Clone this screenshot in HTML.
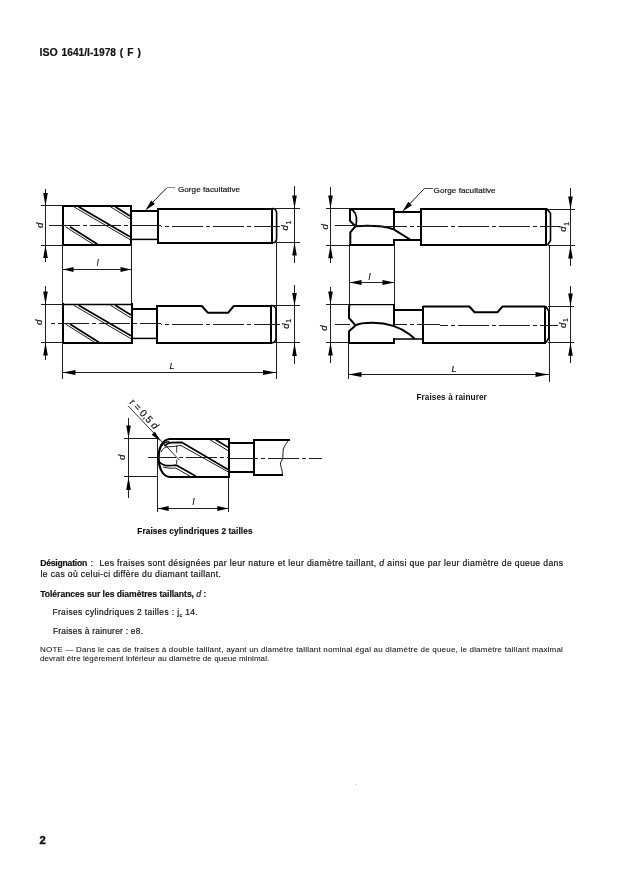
<!DOCTYPE html>
<html><head><meta charset="utf-8"><style>
html,body{margin:0;padding:0;background:#fff;width:621px;height:877px;overflow:hidden}
svg{position:absolute;left:0;top:0;display:block;will-change:transform}
text{font-family:"Liberation Sans",sans-serif;fill:#111;stroke:#111;stroke-width:0.18px}
</style></head><body>
<svg width="621" height="877" viewBox="0 0 621 877" fill="none">
<path d="M45.5,188.5V261.5" stroke="#1e1e1e" stroke-width="1" shape-rendering="crispEdges"/>
<path d="M45.5,206L43.2,193L47.8,193Z" fill="#000" stroke="none"/>
<path d="M45.5,245L47.8,258L43.2,258Z" fill="#000" stroke="none"/>
<path d="M41,205.5H63" stroke="#1e1e1e" stroke-width="1" shape-rendering="crispEdges"/>
<path d="M41,245.5H63" stroke="#1e1e1e" stroke-width="1" shape-rendering="crispEdges"/>
<path d="M62,206H132" stroke="#000" stroke-width="2" shape-rendering="crispEdges"/>
<path d="M62,245H132" stroke="#000" stroke-width="2" shape-rendering="crispEdges"/>
<path d="M63,205V246" stroke="#000" stroke-width="2" shape-rendering="crispEdges"/>
<path d="M131,205V246" stroke="#000" stroke-width="2" shape-rendering="crispEdges"/>
<path d="M73.8,206.8L130,239.56" stroke="#000" stroke-width="0.9"/>
<path d="M78.6,206.8L130,236.77" stroke="#000" stroke-width="1.7"/>
<path d="M110.5,206.8L130,218.89" stroke="#000" stroke-width="0.9"/>
<path d="M115.3,206.8L130,215.91" stroke="#000" stroke-width="1.7"/>
<path d="M65.5,226.8L93.12,244.2" stroke="#000" stroke-width="0.9"/>
<path d="M69.9,226.8L97.52,244.2" stroke="#000" stroke-width="1.7"/>
<path d="M130,211H159" stroke="#000" stroke-width="2" shape-rendering="crispEdges"/>
<path d="M131,239.4H158" stroke="#000" stroke-width="1.5"/>
<path d="M157,209H273" stroke="#000" stroke-width="2" shape-rendering="crispEdges"/>
<path d="M157,243H273" stroke="#000" stroke-width="2" shape-rendering="crispEdges"/>
<path d="M158,208V244" stroke="#000" stroke-width="2" shape-rendering="crispEdges"/>
<path d="M272,208V244" stroke="#000" stroke-width="2" shape-rendering="crispEdges"/>
<path d="M272,208.5 Q276.6,208.5 276.6,213.2 L276.6,238.6 Q276.6,242.8 272.5,243" stroke="#000" stroke-width="1.6" fill="none" stroke-linejoin="round" />
<path d="M294.5,186V263" stroke="#1e1e1e" stroke-width="1" shape-rendering="crispEdges"/>
<path d="M294.5,208.5L292.2,195.5L296.8,195.5Z" fill="#000" stroke="none"/>
<path d="M294.5,242.5L296.8,255.5L292.2,255.5Z" fill="#000" stroke="none"/>
<path d="M274,208.5H300" stroke="#1e1e1e" stroke-width="1" shape-rendering="crispEdges"/>
<path d="M274,242.5H300" stroke="#1e1e1e" stroke-width="1" shape-rendering="crispEdges"/>
<text x="0" y="0" font-size="9.3" font-style="italic" transform="translate(288.2,230.5) rotate(-90)">d<tspan font-size="6.8" font-style="normal" dx="0.8" dy="2.6">1</tspan></text>
<text x="0" y="0" font-size="9.6" font-style="italic" transform="translate(43.1,228) rotate(-90)">d</text>
<path d="M49,225.5H161" stroke="#1e1e1e" stroke-width="1" shape-rendering="crispEdges" stroke-dasharray="31 3 4 3" stroke-dashoffset="0"/>
<path d="M161,226.5H279.5" stroke="#1e1e1e" stroke-width="1" shape-rendering="crispEdges" stroke-dasharray="31 3 4 3" stroke-dashoffset="112"/>
<path d="M63,269.5H131" stroke="#1e1e1e" stroke-width="1" shape-rendering="crispEdges"/>
<path d="M63,269.5L73.5,267.1L73.5,271.9Z" fill="#000" stroke="none"/>
<path d="M131,269.5L120.5,271.9L120.5,267.1Z" fill="#000" stroke="none"/>
<path d="M62.5,245V304" stroke="#1e1e1e" stroke-width="1" shape-rendering="crispEdges"/>
<path d="M131.5,245V304" stroke="#1e1e1e" stroke-width="1" shape-rendering="crispEdges"/>
<text x="96.7" y="265.8" font-size="8.2" font-weight="normal" font-style="italic" >l</text>
<path d="M167,187.5H175" stroke="#888" stroke-width="1" shape-rendering="crispEdges"/>
<path d="M166.6,188L149.5,205.5" stroke="#000" stroke-width="0.9"/>
<path d="M145.2,210.6L151.29,200.53L154.92,203.97Z" fill="#000" stroke="none"/>
<text x="177.9" y="191.7" font-size="8.1" font-weight="normal" textLength="62.2" lengthAdjust="spacing" >Gorge facultative</text>
<path d="M276.5,243V379" stroke="#1e1e1e" stroke-width="1" shape-rendering="crispEdges"/>
<path d="M45.5,286V360" stroke="#1e1e1e" stroke-width="1" shape-rendering="crispEdges"/>
<path d="M45.5,304.4L43.2,291.4L47.8,291.4Z" fill="#000" stroke="none"/>
<path d="M45.5,342.5L47.8,355.5L43.2,355.5Z" fill="#000" stroke="none"/>
<path d="M41,304.5H63" stroke="#1e1e1e" stroke-width="1" shape-rendering="crispEdges"/>
<path d="M41,342.5H63" stroke="#1e1e1e" stroke-width="1" shape-rendering="crispEdges"/>
<path d="M62,304.4H132" stroke="#000" stroke-width="1.5"/>
<path d="M62,343H133" stroke="#000" stroke-width="2" shape-rendering="crispEdges"/>
<path d="M63,303.4V344" stroke="#000" stroke-width="2" shape-rendering="crispEdges"/>
<path d="M132,303.4V344" stroke="#000" stroke-width="2" shape-rendering="crispEdges"/>
<path d="M73.8,305.3L131,338.65" stroke="#000" stroke-width="0.9"/>
<path d="M78.6,305.3L131,335.85" stroke="#000" stroke-width="1.7"/>
<path d="M110.5,305.3L131,318.01" stroke="#000" stroke-width="0.9"/>
<path d="M115.3,305.3L131,315.03" stroke="#000" stroke-width="1.7"/>
<path d="M65.5,324L94.39,342.2" stroke="#000" stroke-width="0.9"/>
<path d="M69.9,324L98.79,342.2" stroke="#000" stroke-width="1.7"/>
<path d="M131,309H158" stroke="#000" stroke-width="2" shape-rendering="crispEdges"/>
<path d="M132,338.4H157" stroke="#000" stroke-width="1.5"/>
<path d="M157,306 L201.9,306 L207.7,312.7 L228.3,312.7 L233.8,306 L271,306" stroke="#000" stroke-width="2.0" fill="none" stroke-linejoin="round" />
<path d="M156,306H158" stroke="#000" stroke-width="2" shape-rendering="crispEdges"/>
<path d="M156,343H272" stroke="#000" stroke-width="2" shape-rendering="crispEdges"/>
<path d="M157,305V344" stroke="#000" stroke-width="2" shape-rendering="crispEdges"/>
<path d="M271,305V344" stroke="#000" stroke-width="2" shape-rendering="crispEdges"/>
<path d="M271,305.5 Q276,305.5 276,310.5 L276,338 Q276,342.6 271.5,343" stroke="#000" stroke-width="1.6" fill="none" stroke-linejoin="round" />
<path d="M294.5,284.6V363.7" stroke="#1e1e1e" stroke-width="1" shape-rendering="crispEdges"/>
<path d="M294.5,306L292.2,293L296.8,293Z" fill="#000" stroke="none"/>
<path d="M294.5,343L296.8,356L292.2,356Z" fill="#000" stroke="none"/>
<path d="M274,305.5H300" stroke="#1e1e1e" stroke-width="1" shape-rendering="crispEdges"/>
<path d="M274,342.5H300" stroke="#1e1e1e" stroke-width="1" shape-rendering="crispEdges"/>
<text x="0" y="0" font-size="9.3" font-style="italic" transform="translate(288.6,328.8) rotate(-90)">d<tspan font-size="6.8" font-style="normal" dx="0.8" dy="2.6">1</tspan></text>
<text x="0" y="0" font-size="9.6" font-style="italic" transform="translate(42.4,325) rotate(-90)">d</text>
<path d="M49,323.5H161" stroke="#1e1e1e" stroke-width="1" shape-rendering="crispEdges" stroke-dasharray="31 3 4 3" stroke-dashoffset="32.4"/>
<path d="M161,324.5H280" stroke="#1e1e1e" stroke-width="1" shape-rendering="crispEdges" stroke-dasharray="31 3 4 3" stroke-dashoffset="112"/>
<path d="M62.5,372.5H276" stroke="#1e1e1e" stroke-width="1" shape-rendering="crispEdges"/>
<path d="M62.5,372.5L75.5,370.1L75.5,374.9Z" fill="#000" stroke="none"/>
<path d="M276,372.5L263,374.9L263,370.1Z" fill="#000" stroke="none"/>
<path d="M62.5,343V379" stroke="#1e1e1e" stroke-width="1" shape-rendering="crispEdges"/>
<text x="169.5" y="369.3" font-size="9" font-weight="normal" font-style="italic" >L</text>
<path d="M330.5,187.2V262.6" stroke="#1e1e1e" stroke-width="1" shape-rendering="crispEdges"/>
<path d="M330.5,208.5L328.2,195.5L332.8,195.5Z" fill="#000" stroke="none"/>
<path d="M330.5,245.2L332.8,258.2L328.2,258.2Z" fill="#000" stroke="none"/>
<path d="M326,208.5H350" stroke="#1e1e1e" stroke-width="1" shape-rendering="crispEdges"/>
<path d="M326,245.5H350" stroke="#1e1e1e" stroke-width="1" shape-rendering="crispEdges"/>
<path d="M349,209H395" stroke="#000" stroke-width="2" shape-rendering="crispEdges"/>
<path d="M394,208V229.5" stroke="#000" stroke-width="2" shape-rendering="crispEdges"/>
<path d="M394,239V246" stroke="#000" stroke-width="2" shape-rendering="crispEdges"/>
<path d="M349,245H395" stroke="#000" stroke-width="2" shape-rendering="crispEdges"/>
<path d="M350,209 L350,220.7 L355.3,226.3 L350.3,232.3 L350.3,245" stroke="#000" stroke-width="2.0" fill="none" stroke-linejoin="round" />
<path d="M350.6,209.3 C355,211 356.8,216 356.5,221.3 C356.3,224 356,225.5 355.5,226.3" stroke="#000" stroke-width="1.7" fill="none" stroke-linejoin="round" />
<path d="M355.3,226.3 C362,225.8 372,225.6 382,226.6 C387,227.2 391,228.2 394.2,229.7 L410.8,240" stroke="#000" stroke-width="2.0" fill="none" stroke-linejoin="round" />
<path d="M393,212H422" stroke="#000" stroke-width="2" shape-rendering="crispEdges"/>
<path d="M393,240H422" stroke="#000" stroke-width="2" shape-rendering="crispEdges"/>
<path d="M420,209H547" stroke="#000" stroke-width="2" shape-rendering="crispEdges"/>
<path d="M420,245H547" stroke="#000" stroke-width="2" shape-rendering="crispEdges"/>
<path d="M421,208V246" stroke="#000" stroke-width="2" shape-rendering="crispEdges"/>
<path d="M546,208V246" stroke="#000" stroke-width="2" shape-rendering="crispEdges"/>
<path d="M546.5,208.6 L550.5,213.2 L550.5,240.5 L547.5,245.2" stroke="#000" stroke-width="1.6" fill="none" stroke-linejoin="round" />
<path d="M570.5,188V265.6" stroke="#1e1e1e" stroke-width="1" shape-rendering="crispEdges"/>
<path d="M570.5,209.5L568.2,196.5L572.8,196.5Z" fill="#000" stroke="none"/>
<path d="M570.5,245.5L572.8,258.5L568.2,258.5Z" fill="#000" stroke="none"/>
<path d="M548,209.5H575" stroke="#1e1e1e" stroke-width="1" shape-rendering="crispEdges"/>
<path d="M548,245.5H575" stroke="#1e1e1e" stroke-width="1" shape-rendering="crispEdges"/>
<text x="0" y="0" font-size="9.3" font-style="italic" transform="translate(566.3,231.8) rotate(-90)">d<tspan font-size="6.8" font-style="normal" dx="0.8" dy="2.6">1</tspan></text>
<text x="0" y="0" font-size="9.6" font-style="italic" transform="translate(328.2,229.5) rotate(-90)">d</text>
<path d="M335.4,225.5H380" stroke="#1e1e1e" stroke-width="1" shape-rendering="crispEdges" stroke-dasharray="31 3 4 3" stroke-dashoffset="0"/>
<path d="M380,226.5H559.8" stroke="#1e1e1e" stroke-width="1" shape-rendering="crispEdges" stroke-dasharray="31 3 4 3" stroke-dashoffset="44.6"/>
<path d="M424.4,188.5H432.8" stroke="#555" stroke-width="1" shape-rendering="crispEdges"/>
<path d="M424.4,188.5L406,207.8" stroke="#000" stroke-width="0.9"/>
<path d="M402.2,211.8L408.32,201.75L411.94,205.2Z" fill="#000" stroke="none"/>
<text x="433.6" y="192.5" font-size="8.1" font-weight="normal" textLength="62.0" lengthAdjust="spacing" >Gorge facultative</text>
<path d="M349.5,282.5H394.5" stroke="#1e1e1e" stroke-width="1" shape-rendering="crispEdges"/>
<path d="M349.5,282.5L361.5,280L361.5,285Z" fill="#000" stroke="none"/>
<path d="M394.5,282.5L382.5,285L382.5,280Z" fill="#000" stroke="none"/>
<path d="M349.5,245V304.5" stroke="#1e1e1e" stroke-width="1" shape-rendering="crispEdges"/>
<path d="M394.5,245V304.5" stroke="#1e1e1e" stroke-width="1" shape-rendering="crispEdges"/>
<text x="368.6" y="279.6" font-size="8.6" font-weight="normal" font-style="italic" >l</text>
<path d="M549.5,246V381.6" stroke="#1e1e1e" stroke-width="1" shape-rendering="crispEdges"/>
<path d="M330.5,287V362.6" stroke="#1e1e1e" stroke-width="1" shape-rendering="crispEdges"/>
<path d="M330.5,304.6L328.2,291.6L332.8,291.6Z" fill="#000" stroke="none"/>
<path d="M330.5,342.6L332.8,355.6L328.2,355.6Z" fill="#000" stroke="none"/>
<path d="M326,304.5H349" stroke="#1e1e1e" stroke-width="1" shape-rendering="crispEdges"/>
<path d="M326,342.5H349" stroke="#1e1e1e" stroke-width="1" shape-rendering="crispEdges"/>
<path d="M349,304.6H394" stroke="#000" stroke-width="1.4"/>
<path d="M394,303.6V326.5" stroke="#000" stroke-width="2" shape-rendering="crispEdges"/>
<path d="M349.5,304.4 C348.7,309 349,314 349,318 L355.5,325.4 L349,331.2 L349,343" stroke="#000" stroke-width="2.0" fill="none" stroke-linejoin="round" />
<path d="M348,343H395" stroke="#000" stroke-width="2" shape-rendering="crispEdges"/>
<path d="M394,338V344" stroke="#000" stroke-width="2" shape-rendering="crispEdges"/>
<path d="M355.5,325.4 C358.5,323.6 365,322.8 372.6,322.8 C380,322.9 388,324.3 393.2,325.9 C399,327.8 405,331 409,334 C411,335.5 413,337.2 414.8,339" stroke="#000" stroke-width="2.0" fill="none" stroke-linejoin="round" />
<path d="M393,310H424" stroke="#000" stroke-width="2" shape-rendering="crispEdges"/>
<path d="M394,339H423" stroke="#000" stroke-width="1.5"/>
<path d="M423,306.5 L469.3,306.5 L474.6,312.2 L497.6,312.2 L502.5,306.5 L545,306.5" stroke="#000" stroke-width="2.0" fill="none" stroke-linejoin="round" />
<path d="M422,343H546" stroke="#000" stroke-width="2" shape-rendering="crispEdges"/>
<path d="M423,305.5V344" stroke="#000" stroke-width="2" shape-rendering="crispEdges"/>
<path d="M545,305.5V344" stroke="#000" stroke-width="2" shape-rendering="crispEdges"/>
<path d="M545.4,306 L548.8,311 L548.8,338 L546,342.6" stroke="#000" stroke-width="1.6" fill="none" stroke-linejoin="round" />
<path d="M570.5,286V363.3" stroke="#1e1e1e" stroke-width="1" shape-rendering="crispEdges"/>
<path d="M570.5,306.5L568.2,293.5L572.8,293.5Z" fill="#000" stroke="none"/>
<path d="M570.5,342.7L572.8,355.7L568.2,355.7Z" fill="#000" stroke="none"/>
<path d="M548,306.5H574.3" stroke="#1e1e1e" stroke-width="1" shape-rendering="crispEdges"/>
<path d="M548,342.5H574.3" stroke="#1e1e1e" stroke-width="1" shape-rendering="crispEdges"/>
<text x="0" y="0" font-size="9.3" font-style="italic" transform="translate(565.8,328) rotate(-90)">d<tspan font-size="6.8" font-style="normal" dx="0.8" dy="2.6">1</tspan></text>
<text x="0" y="0" font-size="9.6" font-style="italic" transform="translate(326.6,330.8) rotate(-90)">d</text>
<path d="M335,324.5H350" stroke="#1e1e1e" stroke-width="1" shape-rendering="crispEdges" stroke-dasharray="31 3 4 3" stroke-dashoffset="0"/>
<path d="M394,324.5H440" stroke="#1e1e1e" stroke-width="1" shape-rendering="crispEdges" stroke-dasharray="31 3 4 3" stroke-dashoffset="59"/>
<path d="M440,325.5H557.8" stroke="#1e1e1e" stroke-width="1" shape-rendering="crispEdges" stroke-dasharray="31 3 4 3" stroke-dashoffset="105"/>
<rect x="355" y="784" width="2" height="1" fill="#d8d8d8"/>
<path d="M348.5,374.5H548.5" stroke="#1e1e1e" stroke-width="1" shape-rendering="crispEdges"/>
<path d="M348.5,374.5L361.5,372.1L361.5,376.9Z" fill="#000" stroke="none"/>
<path d="M548.5,374.5L535.5,376.9L535.5,372.1Z" fill="#000" stroke="none"/>
<path d="M348.5,343V379" stroke="#1e1e1e" stroke-width="1" shape-rendering="crispEdges"/>
<text x="451.4" y="371.6" font-size="9" font-weight="normal" font-style="italic" >L</text>
<text x="416.4" y="400" font-size="8.2" font-weight="bold" textLength="70.4" lengthAdjust="spacing" style="stroke-width:0">Fraises à rainurer</text>
<path d="M128.5,418V498" stroke="#1e1e1e" stroke-width="1" shape-rendering="crispEdges"/>
<path d="M128.5,438.5L126.2,425.5L130.8,425.5Z" fill="#000" stroke="none"/>
<path d="M128.5,477L130.8,490L126.2,490Z" fill="#000" stroke="none"/>
<path d="M124,438.5H158" stroke="#1e1e1e" stroke-width="1" shape-rendering="crispEdges"/>
<path d="M124,476.5H158" stroke="#1e1e1e" stroke-width="1" shape-rendering="crispEdges"/>
<path d="M169,439H230" stroke="#000" stroke-width="2" shape-rendering="crispEdges"/>
<path d="M169,477H230" stroke="#000" stroke-width="2" shape-rendering="crispEdges"/>
<path d="M229,438V478" stroke="#000" stroke-width="2" shape-rendering="crispEdges"/>
<path d="M157.5,438V512" stroke="#1e1e1e" stroke-width="1" shape-rendering="crispEdges"/>
<path d="M228.5,477V512" stroke="#1e1e1e" stroke-width="1" shape-rendering="crispEdges"/>
<path d="M170.5,439 C161.5,439 158.6,449.5 158.6,457.5 C158.6,466 161.5,476.8 170.5,477" stroke="#000" stroke-width="2.1" fill="none" stroke-linejoin="round" />
<path d="M228,443H255" stroke="#000" stroke-width="2" shape-rendering="crispEdges"/>
<path d="M228,472H255" stroke="#000" stroke-width="2" shape-rendering="crispEdges"/>
<path d="M254,439V476" stroke="#000" stroke-width="2" shape-rendering="crispEdges"/>
<path d="M253,440H289.5" stroke="#000" stroke-width="2" shape-rendering="crispEdges"/>
<path d="M253,475H283" stroke="#000" stroke-width="2" shape-rendering="crispEdges"/>
<path d="M289,439.4 C287,443 284,446 283.3,449.3 C282.8,452 283.2,455 282.8,457.8 C282.3,460.5 280.2,462 280.4,464.2 C280.6,467 282.6,470 282.4,474.4" stroke="#000" stroke-width="0.9" fill="none" stroke-linejoin="round" />
<path d="M148,457.5H230" stroke="#1e1e1e" stroke-width="1" shape-rendering="crispEdges" stroke-dasharray="31 3 4 3" stroke-dashoffset="3"/>
<path d="M230,458.5H322.4" stroke="#1e1e1e" stroke-width="1" shape-rendering="crispEdges" stroke-dasharray="31 3 4 3" stroke-dashoffset="85"/>
<path d="M157.7,508.5H228.3" stroke="#1e1e1e" stroke-width="1" shape-rendering="crispEdges"/>
<path d="M157.7,508.5L168.7,506.1L168.7,510.9Z" fill="#000" stroke="none"/>
<path d="M228.3,508.5L217.3,510.9L217.3,506.1Z" fill="#000" stroke="none"/>
<text x="192.4" y="504.6" font-size="8.6" font-weight="normal" font-style="italic" >l</text>
<text x="0" y="0" font-size="9.6" font-style="italic" transform="translate(124.6,460.1) rotate(-90)">d</text>
<path d="M128,405.8L179.6,460.3" stroke="#000" stroke-width="0.8"/>
<path d="M160.8,441.2L151.68,434.67L154.89,431.66Z" fill="#000" stroke="none"/>
<text x="0" y="0" font-size="10" transform="translate(129.0,402.8) rotate(46.9)">r = 0,5 <tspan font-style="italic">d</tspan></text>
<path d="M164.5,446.2 C167,443.5 169,442.6 171.3,442.6 L181.6,442.3 L228,469.6" stroke="#000" stroke-width="1.7" fill="none" stroke-linejoin="round" />
<path d="M161,452 C163,448 166,446.5 169.3,446.8 C173,446.6 178,445.8 181,445.5 L228,471.8" stroke="#000" stroke-width="0.9" fill="none" stroke-linejoin="round" />
<path d="M159.7,462.3 C161.5,464 163.5,465 166,465.6 C169,466 172,465.4 176.4,465.2 L196,476.2" stroke="#000" stroke-width="1.7" fill="none" stroke-linejoin="round" />
<path d="M162.9,466.8 C167,468.4 171,468.3 175.8,468.1 L190,476.2" stroke="#000" stroke-width="0.9" fill="none" stroke-linejoin="round" />
<path d="M210,439.8L228.2,450.72" stroke="#000" stroke-width="0.9"/>
<path d="M215.6,439.8L228.2,447.36" stroke="#000" stroke-width="1.7"/>
<path d="M162,446 C163.5,443 166,441.7 169.5,441.6" stroke="#000" stroke-width="1.2" fill="none" stroke-linejoin="round" />
<path d="M176.7,445.5V452.6M176.7,459.7V464.2" stroke="#1e1e1e" stroke-width="0.9"/>
<text x="39.5" y="55.9" font-size="10.2" font-weight="bold" textLength="18.2" lengthAdjust="spacingAndGlyphs" >ISO</text>
<text x="61.6" y="55.9" font-size="10.2" font-weight="bold" textLength="54.4" lengthAdjust="spacingAndGlyphs" >1641/I-1978</text>
<text x="119.7" y="55.9" font-size="10.2" font-weight="bold" textLength="21.2" lengthAdjust="spacing" >(F)</text>
<text x="39.5" y="844" font-size="11.2" font-weight="bold" font-style="normal" style="stroke:#111;stroke-width:0.5">2</text>
<text x="40.2" y="565.9" font-size="8.6" font-weight="bold" textLength="47.1" lengthAdjust="spacing" >Désignation</text>
<text x="90.6" y="565.9" font-size="8.6" font-weight="normal" font-style="normal" >:</text>
<text x="99.4" y="566" font-size="8.6" font-weight="normal" textLength="463.6" lengthAdjust="spacing" >Les fraises sont désignées par leur nature et leur diamètre taillant, <tspan font-style="italic">d</tspan> ainsi que par leur diamètre de queue dans</text>
<text x="40.6" y="577.3" font-size="8.6" font-weight="normal" textLength="180.2" lengthAdjust="spacing" >le cas où celui-ci diffère du diamant taillant.</text>
<text x="40.2" y="596.5" font-size="8.6" font-weight="bold" textLength="166.1" lengthAdjust="spacing" >Tolérances sur les diamètres taillants, <tspan font-weight="normal" font-style="italic">d</tspan> :</text>
<text x="52.4" y="615" font-size="8.4" font-weight="normal" textLength="145.3" lengthAdjust="spacing" >Fraises cylindriques 2 tailles : j<tspan font-size="5.5" dy="1.8">c</tspan><tspan dy="-1.8"> 14.</tspan></text>
<text x="52.9" y="634.4" font-size="8.4" font-weight="normal" textLength="90.1" lengthAdjust="spacing" >Fraises à rainurer : e8.</text>
<text x="40" y="652.2" font-size="8.0" font-weight="normal" textLength="522.9" lengthAdjust="spacing" style="stroke-width:0.06px">NOTE — Dans le cas de fraises à double taillant, ayant un diamètre taillant nominal égal au diamètre de queue, le diamètre taillant maximal</text>
<text x="40" y="661" font-size="8.0" font-weight="normal" textLength="229.2" lengthAdjust="spacing" style="stroke-width:0.06px">devrait être légèrement inférieur au diamètre de queue minimal.</text>
<text x="137.3" y="534.2" font-size="8.2" font-weight="bold" textLength="115.2" lengthAdjust="spacing" >Fraises cylindriques 2 tailles</text>
</svg>
</body></html>
